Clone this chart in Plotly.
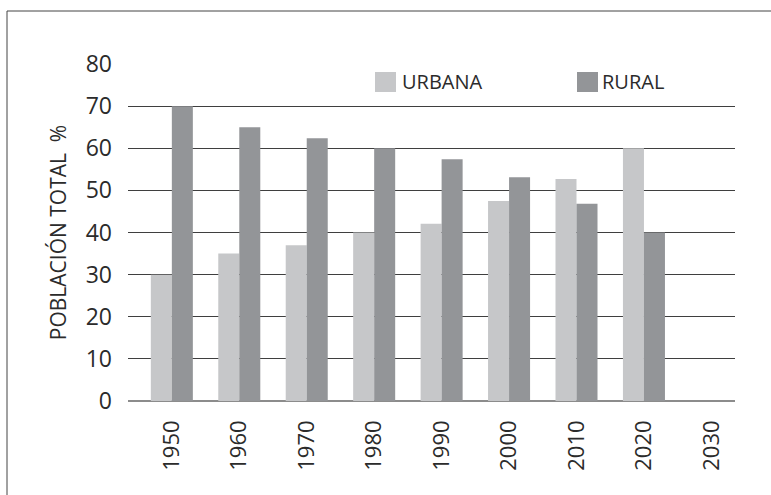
import plotly.graph_objects as go

years = ["1950", "1960", "1970", "1980", "1990", "2000", "2010", "2020", "2030"]
urbana = [30, 35, 37, 40, 42.1, 47.5, 52.7, 60, None]
rural = [70, 65, 62.4, 60, 57.4, 53.1, 46.8, 40, None]
y_ticks = [0, 10, 20, 30, 40, 50, 60, 70, 80]

C_URB = "#c6c7c9"
C_RUR = "#939598"
TXT = "#2b2b2b"
FONT = "Open Sans"

fig = go.Figure()
fig.add_trace(go.Bar(x=years, y=urbana, name="URBANA", marker=dict(color=C_URB, line=dict(width=0)), showlegend=False))
fig.add_trace(go.Bar(x=years, y=rural, name="RURAL", marker=dict(color=C_RUR, line=dict(width=0)), showlegend=False))

L, R, T, B = 128, 36, 64, 94
W, H = 771, 495
pw, ph = W - L - R, H - T - B

def px_x(x):
    return (x - L) / pw

def px_y(y):
    return (H - B - y) / ph

shapes = [
    # outer frame
    dict(type="rect", xref="paper", yref="paper", x0=px_x(7), x1=px_x(790), y0=px_y(11), y1=px_y(520),
         line=dict(color="#444444", width=1), fillcolor="rgba(0,0,0,0)", layer="below"),
    # legend swatches
    dict(type="rect", xref="paper", yref="paper", x0=px_x(375), x1=px_x(396), y0=px_y(92), y1=px_y(72),
         line=dict(width=0), fillcolor=C_URB),
    dict(type="rect", xref="paper", yref="paper", x0=px_x(577), x1=px_x(598), y0=px_y(92), y1=px_y(72),
         line=dict(width=0), fillcolor=C_RUR),
]
annotations = [
    dict(text="URBANA", xref="paper", yref="paper", x=px_x(400), y=px_y(82), xanchor="left", yanchor="middle",
         showarrow=False, font=dict(family=FONT, size=20, color=TXT)),
    dict(text="RURAL", xref="paper", yref="paper", x=px_x(600), y=px_y(82), xanchor="left", yanchor="middle",
         showarrow=False, font=dict(family=FONT, size=20, color=TXT)),
]

fig.update_layout(
    width=W, height=H,
    margin=dict(l=L, r=R, t=T, b=B, pad=0),
    paper_bgcolor="white", plot_bgcolor="white",
    barmode="group", bargap=0.377, bargroupgap=0,
    font=dict(family=FONT, color=TXT),
    shapes=shapes, annotations=annotations,
    xaxis=dict(
        type="category", range=[-0.65, 8.35], tickangle=-90,
        tickfont=dict(family=FONT, size=22, color=TXT),
        showgrid=False, showline=False, ticks="", ticklabelstandoff=14,
    ),
    yaxis=dict(
        range=[0, 80], tickvals=y_ticks, ticktext=[str(v) for v in y_ticks],
        tickfont=dict(family=FONT, size=23, color=TXT),
        showgrid=True, gridcolor="#3f3f3f", gridwidth=1,
        zeroline=True, zerolinecolor="#8c8c8c", zerolinewidth=1.5,
        showline=False, ticks="", ticklabelstandoff=15,
        title=dict(text="POBLACIÓN TOTAL  %", font=dict(family=FONT, size=21, color=TXT), standoff=13),
    ),
)

fig.write_html("out.html", config={"displayModeBar": False},
               post_script="document.body.style.margin='0';document.body.style.overflow='hidden';")
